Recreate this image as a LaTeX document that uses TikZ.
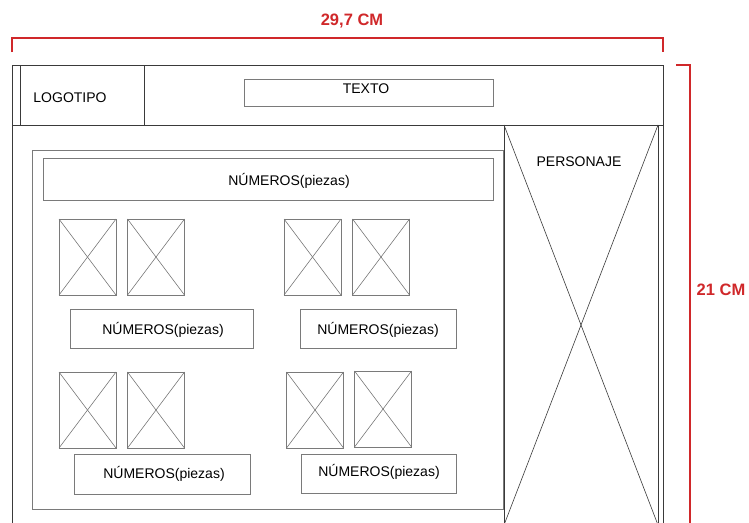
\documentclass[tikz,border=0pt]{standalone}
\usepackage{fontspec}
\setmainfont{Liberation Sans}
\definecolor{dimred}{HTML}{D0282A}
\definecolor{lineA}{HTML}{3A3A3A}
\definecolor{lineB}{HTML}{7A7A7A}
\begin{document}
\begin{tikzpicture}[x=1pt,y=-1pt,
  box/.style={draw=lineB,line width=0.9pt,rectangle,inner sep=0pt,outer sep=0pt},
  frame/.style={draw=lineA,line width=0.9pt},
  lbl/.style={font=\fontsize{14}{16}\selectfont,text=black},
  dimlbl/.style={font=\fontsize{16.5}{18}\selectfont\bfseries,text=dimred},
  dim/.style={draw=dimred,line width=1.8pt}]
\clip (0,0) rectangle (749,522);
\fill[white] (0,0) rectangle (749,522);
% dimensions
\coordinate (tl) at (12,52);
\coordinate (tr) at (663,52);
\draw[dim] (tl) -- ++(0,-14) -| (tr);
\node[dimlbl] (w) at (352,21) {29,7 CM};
\coordinate (rt) at (676,65);
\draw[dim] (rt) -- ++(14,0) -- ++(0,470);
\node[dimlbl] (h) at (721,290) {21 CM};
% header
\node[box,draw=lineA,minimum width=651pt,minimum height=60pt] (head) at (337.5,95) {};
\node[box,draw=lineA,minimum width=124pt,minimum height=60pt] (logo) at (82,95) {};
\node[lbl] (logot) at (70,98) {LOGOTIPO};
\node[box,minimum width=249pt,minimum height=27pt] (texto) at (368.5,92.5) {};
\node[lbl] (textot) at (366,89) {TEXTO};
% outer body lines
\coordinate (bl) at (12,540);
\coordinate (br) at (663,540);
\draw[frame] (head.south west) -- (bl);
\draw[frame] (head.south east) -- (br);
% personaje
\node[box,draw=lineA,minimum width=154pt,minimum height=400pt] (pers) at (581,325) {};
\draw[lineA,line width=0.6pt] (pers.north west) -- (pers.south east);
\draw[lineA,line width=0.6pt] (pers.north east) -- (pers.south west);
\node[lbl,fill=white,inner sep=1pt] (perst) at (579,162) {PERSONAJE};
% inner panel
\node[box,minimum width=471pt,minimum height=359pt] (panel) at (267.5,329.5) {};
\node[box,minimum width=450pt,minimum height=42pt] (n0) at (268,179) {};
\node[lbl] (n0t) at (289,181) {NÚMEROS(piezas)};
% image boxes
\tikzset{imgbox/.style={box,minimum width=57pt,minimum height=76pt}}
\foreach \nm/\cx/\cy in {a/87.5/257,b/156/257,c/312.5/257,d/381/257,e/87.5/410,f/156/410,g/315/410,h/383/409}{
  \node[imgbox] (\nm) at (\cx,\cy) {};
  \draw[lineB,line width=0.6pt] (\nm.north west) -- (\nm.south east);
  \draw[lineB,line width=0.6pt] (\nm.north east) -- (\nm.south west);
}
% numeros boxes
\node[box,minimum width=183pt,minimum height=39pt] (n1) at (161.5,328.5) {};
\node[lbl] (n1t) at (163,330) {NÚMEROS(piezas)};
\node[box,minimum width=156pt,minimum height=39pt] (n2) at (378,328.5) {};
\node[lbl] (n2t) at (378,330) {NÚMEROS(piezas)};
\node[box,minimum width=176pt,minimum height=40pt] (n3) at (162,474) {};
\node[lbl] (n3t) at (164,474) {NÚMEROS(piezas)};
\node[box,minimum width=155pt,minimum height=39pt] (n4) at (378.5,473.5) {};
\node[lbl] (n4t) at (379,472) {NÚMEROS(piezas)};
\end{tikzpicture}
\end{document}
